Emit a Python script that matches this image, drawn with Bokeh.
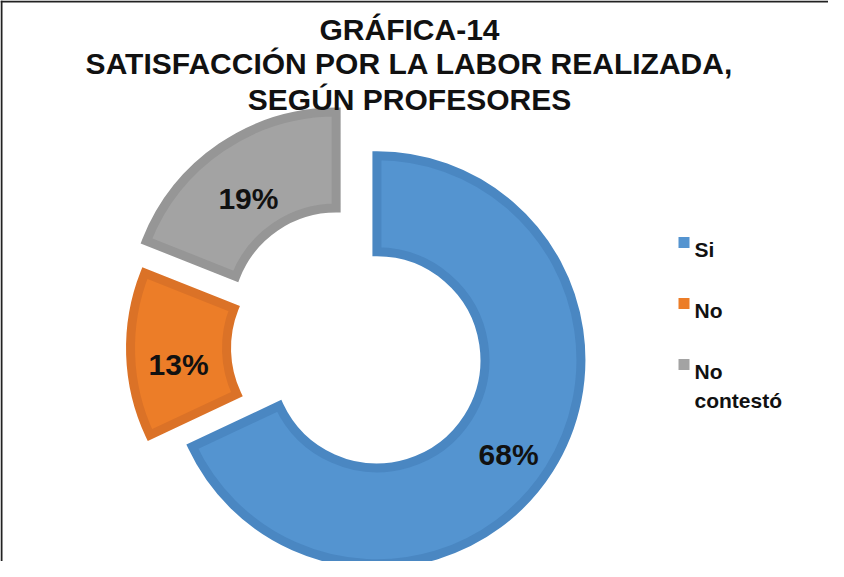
from math import pi, sin, cos
from bokeh.plotting import figure
from bokeh.models import Range1d, ColumnDataSource, Span
from bokeh.core.properties import value
from bokeh.embed import file_html
from bokeh.resources import INLINE

# ---- data ----
categories = ["Si", "No", "No\ncontestó"]
values = [68, 13, 19]
title_lines = ["GRÁFICA-14", "SATISFACCIÓN POR LA LABOR REALIZADA,", "SEGÚN PROFESORES"]

# ---- style ----
fill_colors = ["#5494D0", "#EC7D28", "#A3A3A3"]
line_colors = ["#4A87C2", "#DB7227", "#969696"]
explode = [23, 23, 38]
CX, CY = 365.0, 355.0          # screen px
R_OUT, R_IN = 204.0, 108.0
FONT = value("Liberation Sans")

W, H = 828, 561
p = figure(width=W, height=H, output_backend="svg", toolbar_location=None,
           x_range=Range1d(8, 8 + W), y_range=Range1d(-(8 + H), -8),
           min_border=0)
p.axis.visible = False
p.xgrid.visible = False
p.ygrid.visible = False
p.outline_line_color = None
p.background_fill_color = "white"

total = float(sum(values))
xs, ys, sa, ea, lx, ly, lab = [], [], [], [], [], [], []
acc = 0.0
for v, d in zip(values, explode):
    t0 = 2 * pi * acc / total
    acc += v
    t1 = 2 * pi * acc / total
    tm = (t0 + t1) / 2
    x = CX + d * sin(tm)
    y = -CY + d * cos(tm)
    xs.append(x); ys.append(y)
    sa.append(pi / 2 - t0); ea.append(pi / 2 - t1)
    rm = (R_OUT + R_IN) / 2
    lx.append(x + rm * sin(tm)); ly.append(y + rm * cos(tm))
    lab.append(f"{v}%")

src = ColumnDataSource(dict(x=xs, y=ys, sa=sa, ea=ea, fc=fill_colors, lc=line_colors,
                            lx=lx, ly=ly, lab=lab))
p.annular_wedge(x="x", y="y", inner_radius=R_IN, outer_radius=R_OUT,
                start_angle="sa", end_angle="ea", direction="clock",
                fill_color="fc", line_color="lc", line_width=9, line_join="miter",
                source=src)
p.text(x="lx", y="ly", text="lab", source=src, text_font=FONT, text_font_style="bold",
       text_font_size="30px", text_color="#111111", text_align="center",
       text_baseline="alphabetic", y_offset=11)

# title
title_x = [417] * len(title_lines)
title_y = [-37, -71, -107]
p.text(x=title_x, y=title_y, text=title_lines, text_font=FONT, text_font_style="bold",
       text_font_size="30px", text_color="#111111", text_align="center",
       text_baseline="alphabetic")

# legend
leg_y = [-(250 + 61 * i) for i in range(len(categories))]
p.scatter(x=[691.5] * len(categories), y=leg_y, marker="square", size=11,
          fill_color=fill_colors, line_color=None)
tx, ty, tt = [], [], []
for cat, yy in zip(categories, leg_y):
    for j, line in enumerate(cat.split("\n")):
        tx.append(702); ty.append(yy - 29 * j); tt.append(line)
p.text(x=tx, y=ty, text=tt, text_font=FONT,
       text_font_style="bold", text_font_size="21px", text_color="#111111",
       text_align="left", text_baseline="alphabetic", y_offset=7)

# frame lines (left and top)
p.add_layout(Span(location=9, dimension="height", line_color="#222222", line_width=2))
p.add_layout(Span(location=-9, dimension="width", line_color="#222222", line_width=2))

open("out.html", "w").write(file_html(p, INLINE))
